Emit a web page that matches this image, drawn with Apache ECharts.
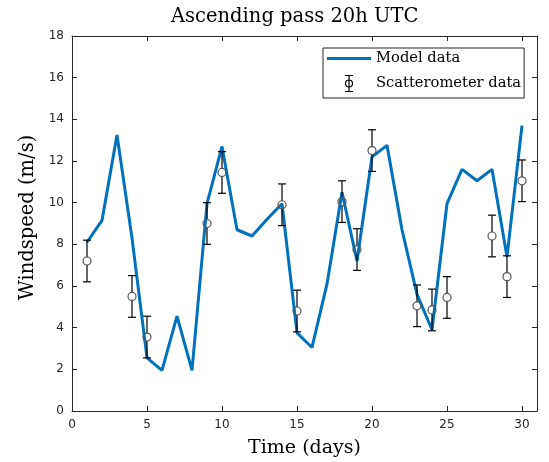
<!DOCTYPE html>
<html>
<head>
<meta charset="utf-8">
<script src="https://cdn.jsdelivr.net/npm/echarts@6/dist/echarts.min.js"></script>
<style>
  html, body { margin: 0; padding: 0; background: #fff; }
  #chart { width: 549px; height: 462px; }
</style>
</head>
<body>
<div id="chart"></div>
<script>
// ---- data ----
const titleText = 'Ascending pass 20h UTC';
const xName = 'Time (days)';
const yName = 'Windspeed (m/s)';
const modelDays = [1,2,3,4,5,6,7,8,9,10,11,12,13,14,15,16,17,18,19,20,21,22,23,24,25,26,27,28,29,30];
const modelValues = [8.1,9.15,13.25,8.3,2.55,1.95,4.55,1.95,9.95,12.7,8.7,8.4,9.2,9.95,3.75,3.05,6.1,10.5,7.2,12.2,12.75,8.7,5.6,3.9,9.95,11.6,11.05,11.6,7.4,13.7];
const scatDays = [1,4,5,9,10,14,15,18,19,20,23,24,25,28,29,30];
const scatValues = [7.2,5.5,3.55,9.0,11.45,9.9,4.8,10.05,7.75,12.5,5.05,4.85,5.45,8.4,6.45,11.05];
const scatErr = [1,1,1,1,1,1,1,1,1,1,1,1,1,1,1,1];
const xTicks = { min: 0, max: 31, interval: 5 };
const yTicks = { min: 0, max: 18, interval: 2 };

const axisColor = '#262626';
const serif = '"DejaVu Serif", "Liberation Serif", serif';
const sans = '"DejaVu Sans", sans-serif';

const modelData = modelDays.map((d, i) => [d, modelValues[i]]);
const scatData = scatDays.map((d, i) => [d, scatValues[i], scatErr[i]]);

function renderErr(params, api) {
  const x = api.value(0), y = api.value(1), e = api.value(2);
  const c = api.coord([x, y]);
  const hi = api.coord([x, y + e]);
  const lo = api.coord([x, y - e]);
  const r = 4, cw = 4;
  const ls = { stroke: '#000', lineWidth: 1.2 };
  return {
    type: 'group',
    children: [
      { type: 'line', shape: { x1: c[0], y1: hi[1], x2: c[0], y2: c[1] - r }, style: ls },
      { type: 'line', shape: { x1: c[0], y1: c[1] + r, x2: c[0], y2: lo[1] }, style: ls },
      { type: 'line', shape: { x1: c[0] - cw, y1: hi[1], x2: c[0] + cw, y2: hi[1] }, style: ls },
      { type: 'line', shape: { x1: c[0] - cw, y1: lo[1], x2: c[0] + cw, y2: lo[1] }, style: ls },
      { type: 'circle', shape: { cx: c[0], cy: c[1], r: r }, style: { fill: 'none', stroke: '#555', lineWidth: 1.2 } }
    ]
  };
}

const errIcon = 'path://M0,0 L8,0 M4,0 L4,16 M0,16 L8,16 M7.5,8 A3.5,3.5 0 1,1 0.5,8 A3.5,3.5 0 1,1 7.5,8';
const lineIcon = 'path://M0,0 L44,0 L44,3 L0,3 Z';

const chart = echarts.init(document.getElementById('chart'), null, { renderer: 'canvas' });
const baseAxis = {
  axisLine: { show: true, onZero: false, lineStyle: { color: axisColor, width: 1 } },
  axisTick: { show: true, inside: true, length: 5, lineStyle: { color: axisColor } },
  splitLine: { show: false }
};
chart.setOption({
  animation: false,
  backgroundColor: '#fff',
  title: {
    text: titleText,
    left: 166, top: 2,
    textStyle: { fontFamily: serif, fontWeight: 'normal', fontSize: 19.5, color: '#000' }
  },
  legend: {
    left: 323, top: 48,
    orient: 'vertical',
    itemWidth: 44, itemHeight: 16, itemGap: 7,
    padding: [3, 3, 4, 4],
    borderColor: '#262626', borderWidth: 1, borderRadius: 0,
    backgroundColor: '#fff',
    textStyle: { fontFamily: serif, fontSize: 14.7, color: '#000' },
    data: [
      { name: 'Model data', icon: lineIcon, itemStyle: { color: '#0072BD', borderWidth: 0 } },
      { name: 'Scatterometer data', icon: errIcon, itemStyle: { color: 'none', borderColor: '#000', borderWidth: 1.2 } }
    ]
  },
  grid: { left: 72, right: 12, top: 36, bottom: 51, containLabel: false, outerBoundsMode: 'none' },
  xAxis: [
    Object.assign({}, baseAxis, {
      type: 'value', position: 'bottom',
      min: xTicks.min, max: xTicks.max, interval: xTicks.interval,
      name: xName, nameLocation: 'middle', nameGap: 28,
      nameTextStyle: { fontFamily: serif, fontSize: 19, color: '#000' },
      axisLabel: { show: true, showMaxLabel: false, margin: 8, color: axisColor, fontFamily: sans, fontSize: 12 }
    }),
    Object.assign({}, baseAxis, {
      type: 'value', position: 'top',
      min: xTicks.min, max: xTicks.max, interval: xTicks.interval,
      axisLabel: { show: false }
    })
  ],
  yAxis: [
    Object.assign({}, baseAxis, {
      type: 'value', position: 'left',
      min: yTicks.min, max: yTicks.max, interval: yTicks.interval,
      name: yName, nameLocation: 'middle', nameGap: 26,
      nameTextStyle: { fontFamily: serif, fontSize: 19.5, color: '#000', padding: [0, 0, 0, 12] },
      axisLabel: { show: true, margin: 8, color: axisColor, fontFamily: sans, fontSize: 12 }
    }),
    Object.assign({}, baseAxis, {
      type: 'value', position: 'right',
      min: yTicks.min, max: yTicks.max, interval: yTicks.interval,
      axisLabel: { show: false }
    })
  ],
  series: [
    {
      name: 'Model data', type: 'line', data: modelData,
      xAxisIndex: 0, yAxisIndex: 0,
      symbol: 'none', showSymbol: false,
      lineStyle: { color: '#0072BD', width: 3 },
      itemStyle: { color: '#0072BD' },
      z: 2
    },
    {
      name: 'Scatterometer data', type: 'custom', data: scatData,
      xAxisIndex: 0, yAxisIndex: 0,
      renderItem: renderErr,
      encode: { x: 0, y: [1, 2] },
      itemStyle: { color: 'none', borderColor: '#000' },
      z: 3
    }
  ]
});
</script>
</body>
</html>
